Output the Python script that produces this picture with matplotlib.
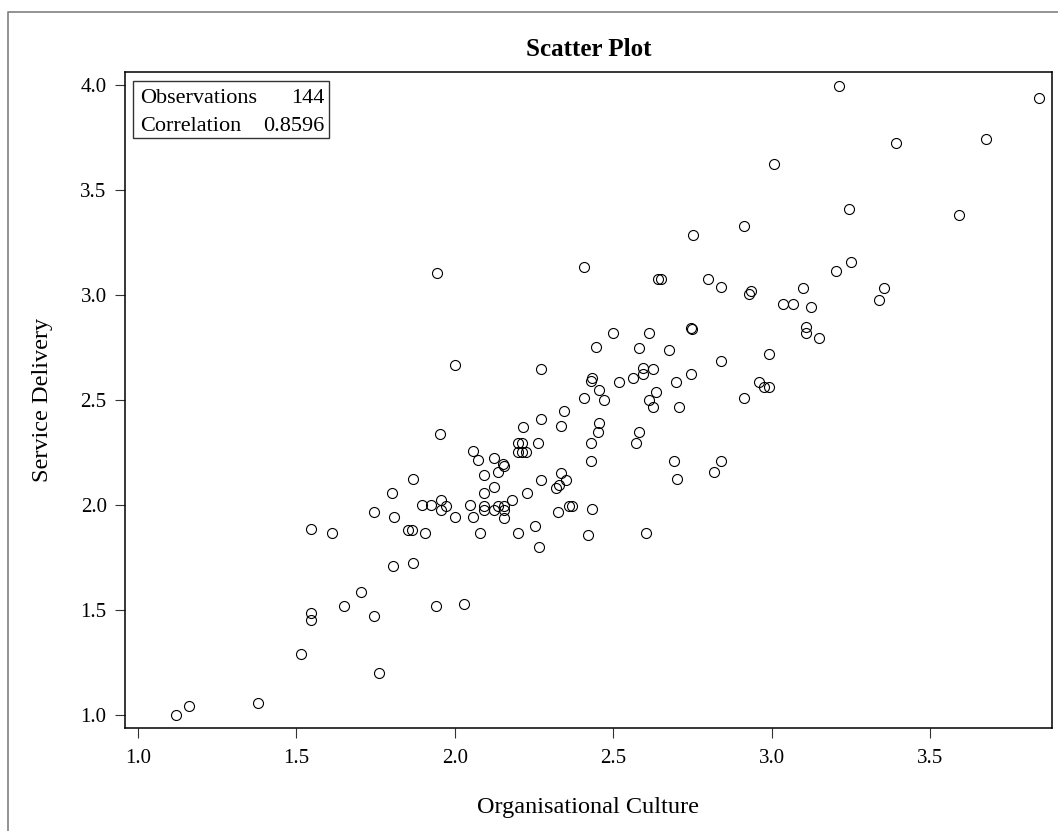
import matplotlib
matplotlib.use('Agg')
import matplotlib.pyplot as plt
from matplotlib.patches import Rectangle
from matplotlib.lines import Line2D

# values
org_culture = [
    1.121, 1.162, 1.379, 1.515, 1.547, 1.547, 1.547, 1.614, 1.652, 1.704,
    1.746, 1.762, 1.746, 1.803, 1.809, 1.804, 1.867, 1.852, 1.866, 1.868,
    1.896, 1.907, 1.924, 1.940, 1.945, 1.955, 1.957, 1.957, 1.973, 2.002,
    2.002, 2.028, 2.049, 2.059, 2.059, 2.074, 2.081, 2.091, 2.091, 2.093,
    2.093, 2.123, 2.123, 2.125, 2.138, 2.136, 2.151, 2.157, 2.157, 2.157,
    2.157, 2.180, 2.199, 2.199, 2.211, 2.224, 2.216, 2.201, 2.227, 2.252,
    2.262, 2.267, 2.272, 2.272, 2.272, 2.320, 2.330, 2.326, 2.335, 2.335,
    2.346, 2.351, 2.362, 2.371, 2.409, 2.409, 2.419, 2.429, 2.434, 2.430,
    2.430, 2.432, 2.446, 2.456, 2.451, 2.456, 2.472, 2.498, 2.519, 2.561,
    2.572, 2.582, 2.582, 2.593, 2.593, 2.604, 2.614, 2.614, 2.625, 2.625,
    2.635, 2.640, 2.651, 2.677, 2.693, 2.698, 2.709, 2.701, 2.745, 2.750,
    2.745, 2.751, 2.798, 2.818, 2.840, 2.840, 2.840, 2.914, 2.914, 2.929,
    2.935, 2.961, 2.977, 2.992, 2.992, 3.007, 3.035, 3.066, 3.098, 3.108,
    3.108, 3.124, 3.150, 3.203, 3.212, 3.245, 3.250, 3.339, 3.355, 3.392,
    3.591, 3.676, 3.844, 2.211,
]
service_delivery = [
    0.998, 1.040, 1.056, 1.287, 1.485, 1.450, 1.882, 1.867, 1.519, 1.582,
    1.469, 1.196, 1.965, 2.056, 1.940, 1.708, 2.122, 1.879, 1.879, 1.724,
    2.000, 1.867, 2.000, 1.519, 3.103, 2.337, 2.022, 1.974, 1.995, 2.665,
    1.940, 1.528, 2.000, 2.256, 1.940, 2.213, 1.867, 2.140, 2.056, 1.995,
    1.975, 2.221, 2.084, 1.975, 2.155, 1.995, 2.193, 2.184, 1.995, 1.975,
    1.938, 2.023, 2.250, 2.293, 2.293, 2.250, 2.370, 1.867, 2.056, 1.897,
    2.293, 1.799, 2.645, 2.407, 2.120, 2.078, 2.094, 1.965, 2.375, 2.150,
    2.448, 2.118, 1.995, 1.995, 3.132, 2.507, 1.857, 2.590, 2.605, 2.293,
    2.210, 1.981, 2.753, 2.547, 2.348, 2.391, 2.500, 2.820, 2.586, 2.605,
    2.293, 2.348, 2.745, 2.653, 2.622, 1.867, 2.820, 2.499, 2.645, 2.467,
    2.539, 3.074, 3.074, 2.737, 2.210, 2.586, 2.464, 2.122, 2.840, 2.836,
    2.622, 3.286, 3.074, 2.155, 3.039, 2.686, 2.210, 3.330, 2.507, 3.003,
    3.019, 2.586, 2.562, 2.562, 2.720, 3.625, 2.957, 2.957, 3.031, 2.846,
    2.820, 2.941, 2.795, 3.115, 3.997, 3.411, 3.157, 2.976, 3.031, 3.725,
    3.379, 3.742, 3.938, 2.250,
]
stat_names = ['Observations', 'Correlation']
stat_values = ['144', '0.8596']
x_ticks = [1.0, 1.5, 2.0, 2.5, 3.0, 3.5]
y_ticks = [1.0, 1.5, 2.0, 2.5, 3.0, 3.5, 4.0]

plt.rcParams['font.family'] = ['Liberation Serif', 'DejaVu Serif']

W, H = 1058, 831
fig = plt.figure(figsize=(W / 100, H / 100), dpi=100)
# axes frame in pixels: left 124.7, right 1052, top 72, bottom 728
ax = fig.add_axes([124.7 / W, (H - 728) / H, (1052 - 124.7) / W, (728 - 72) / H])

ax.plot(org_culture, service_delivery, linestyle='none', marker='o',
        markersize=7.2, markerfacecolor='none', markeredgecolor='black',
        markeredgewidth=0.8)

ax.set_xlim(0.959, 3.884)
ax.set_ylim(0.936, 4.062)
ax.set_xticks(x_ticks)
ax.set_yticks(y_ticks)
ax.set_xticklabels([f'{t:.1f}' for t in x_ticks])
ax.set_yticklabels([f'{t:.1f}' for t in y_ticks])
ax.tick_params(direction='out', length=7, width=0.8, color='#333333',
               labelsize=15, pad=6)
ax.tick_params(axis='x', pad=8)
for s in ax.spines.values():
    s.set_linewidth(1.1)
    s.set_color('black')

ax.set_title('Scatter Plot', fontsize=18, fontweight='bold', pad=11.5)
ax.set_xlabel('Organisational Culture', fontsize=17.5)
ax.set_ylabel('Service Delivery', fontsize=17.5)
ax.xaxis.set_label_coords(0.5, (728 - 807) / 656)
ax.xaxis.label.set_va('center')
ax.yaxis.set_label_coords((43 - 124.7) / 927.3, 0.5)
ax.yaxis.label.set_va('center')

# statistics box in the upper left corner
aw, ah = 927.3, 656.0
bx0 = (132.7 - 124.7) / aw
by0 = (728 - 138) / ah
ax.add_patch(Rectangle((bx0, by0), (329.3 - 132.7) / aw, (138 - 80.7) / ah,
                       transform=ax.transAxes, fill=False,
                       edgecolor='#333333', linewidth=1.0, zorder=5))
rows_y = [(728 - 103.3) / ah, (728 - 131) / ah]
for name, val, ry in zip(stat_names, stat_values, rows_y):
    ax.text((140 - 124.7) / aw, ry, name, transform=ax.transAxes,
            fontsize=16, ha='left', va='baseline')
    ax.text((324 - 124.7) / aw, ry, val, transform=ax.transAxes,
            fontsize=16, ha='right', va='baseline')

# thin grey outer border (top and left visible)
fig.add_artist(Line2D([8 / W, 8 / W, 1.0], [0.0, 1 - 12 / H, 1 - 12 / H],
                      transform=fig.transFigure, color='#808080',
                      linewidth=1.2))

fig.savefig('out.png', dpi=100)
